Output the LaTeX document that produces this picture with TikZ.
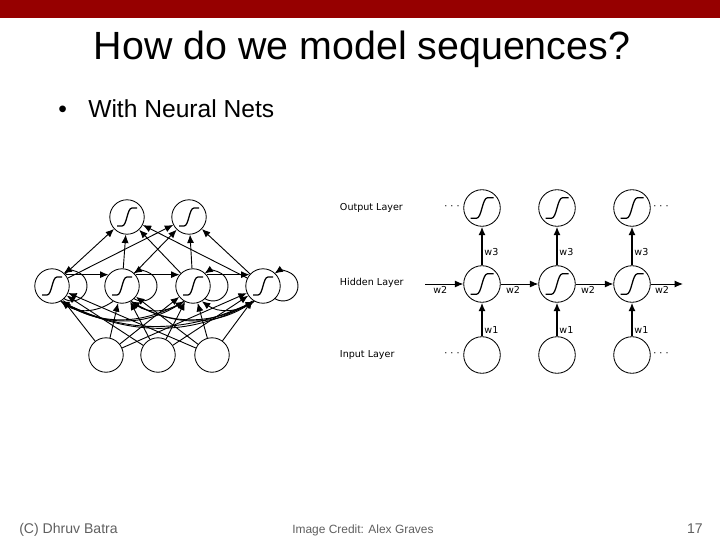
\documentclass[tikz,border=0pt]{standalone}
\usepackage{fontspec}
\setmainfont{Liberation Sans}
\newfontfamily\dejavu{DejaVu Sans}
\usetikzlibrary{arrows.meta,positioning,calc}
\definecolor{slideRed}{RGB}{150,0,0}
\definecolor{footGray}{RGB}{95,95,95}

\tikzset{
  txt/.style={inner sep=0pt},
  unit/.style={circle, draw, fill=white, line width=0.6pt, inner sep=0pt},
  small/.style={unit, minimum size=24.5pt},
  big/.style={unit, minimum size=26pt},
  thin arr/.style={-{Latex[length=6pt,width=5pt]}, line width=0.65pt},
  mid arr/.style={-{Latex[length=6pt,width=5pt]}, line width=0.7pt},
  thick arr/.style={-{Latex[length=6pt,width=5pt]}, line width=1.1pt},
  lbl/.style={inner sep=1.2pt, font=\dejavu\fontsize{6.8}{8}\selectfont},
  sigm/.pic={\draw[line width=0.9pt] (-10,-9) -- (-5,-9) .. controls (0,-9) and (0,9) .. (5,9) -- (10,9);}
}

\begin{document}
\begin{tikzpicture}[x=0.025cm, y=0.025cm]
  \useasboundingbox (0,0) rectangle (720,540);
  \fill[slideRed] (0,522) rectangle (720,540);
  % slide text
  \node[txt, anchor=base, font=\fontsize{28}{32}\selectfont] (title) at (362,480) {How do we model sequences?};
  \node[txt, anchor=base west, font=\fontsize{17.5}{21}\selectfont] (dot) at (58,422) {\textbullet};
  \node[txt, anchor=base west, font=\fontsize{17.5}{21}\selectfont] (point) at (88,422) {With Neural Nets};

  % fully connected net
  \foreach \n/\x in {1/52,2/122,3/193,4/263}
    \node[small] (h\n) at (\x,254) {};
  \foreach \n/\x in {1/127,2/189}
    \node[small] (o\n) at (\x,323) {};
  \foreach \n/\x in {1/106,2/158,3/212}
    \node[small] (i\n) at (\x,185) {};
  \foreach \n in {h1,h2,h3,h4,o1,o2}
    \pic at (\n) {sigm};
  \foreach \a in {1,2,3}
    \foreach \b in {1,2,3,4}
      \draw[thin arr] (i\a) -- (h\b);
  \foreach \a in {1,2,3,4}
    \foreach \b in {1,2}
      \draw[thin arr] (h\a) -- (o\b);
  % recurrent links
  \foreach \n in {1,...,4}
    \draw[thin arr] ([shift={(11.6,-12.4)}]h\n.center) arc[start angle=-124, end angle=124, radius=15];
  \foreach \a/\b in {1/2,2/3,3/4}
    \draw[thin arr] (h\a.40) -- (h\b.140);
  \foreach \a/\b/\ang in {1/3/32,1/4/28,2/4/32}
    \draw[thin arr] (h\a.-60) to[bend right=\ang] (h\b.-120);
  \foreach \a/\b/\ang in {2/1/35,3/1/30,4/1/26,3/2/35,4/2/30,4/3/35}
    \draw[thin arr] (h\a.-120) to[bend left=\ang] (h\b.-60);

  % unfolded net
  \node[lbl, anchor=west] (outl) at (338,332) {Output Layer};
  \node[lbl, anchor=west] (hidl) at (338,257) {Hidden Layer};
  \node[lbl, anchor=west] (inl) at (338,185) {Input Layer};
  \foreach \n/\x in {1/482,2/557,3/632} {
    \node[big] (y\n) at (\x,332) {};
    \node[big] (s\n) at (\x,256) {};
    \node[big] (x\n) at (\x,185) {};
    \pic[scale=1.15] at (y\n) {sigm};
    \pic[scale=1.15] at (s\n) {sigm};
    \draw[thick arr] (x\n) -- node[lbl, right, pos=.2] (wi\n) {w1} (s\n);
    \draw[thick arr] (s\n) -- node[lbl, right, pos=.35] (wo\n) {w3} (y\n);
  }
  \node[lbl] (dyl) at (452,332) {· · ·};
  \node[lbl] (dxl) at (452,185) {· · ·};
  \node[lbl] (dyr) at (661,332) {· · ·};
  \node[lbl] (dxr) at (661,185) {· · ·};
  \coordinate (sin) at (425,256);
  \coordinate (sout) at (683,256);
  \draw[mid arr] (sin) -- node[lbl, below, pos=.4] (wh0) {w2} (s1);
  \draw[mid arr] (s1) -- node[lbl, below, pos=.33] (wh1) {w2} (s2);
  \draw[mid arr] (s2) -- node[lbl, below, pos=.33] (wh2) {w2} (s3);
  \draw[mid arr] (s3) -- node[lbl, below, pos=.35] (wh3) {w2} (sout);

  % footer
  \node[txt, anchor=base west, font=\fontsize{10}{12}\selectfont, text=footGray] (author) at (19,7) {(C) Dhruv Batra};
  \node[txt, anchor=base west, font=\fontsize{8.5}{10}\selectfont, text=footGray] (credit) at (292,7) {Image Credit: Alex Graves};
  \node[txt, anchor=base east, font=\fontsize{10}{12}\selectfont, text=footGray] (page) at (703,7) {17};
\end{tikzpicture}
\end{document}
